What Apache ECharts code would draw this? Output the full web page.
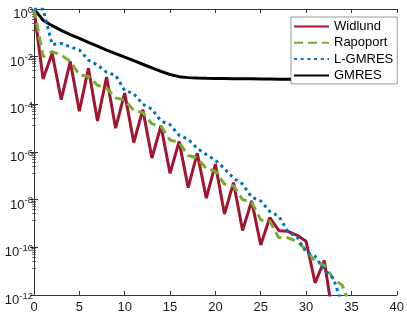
<!DOCTYPE html>
<html>
<head>
<meta charset="utf-8">
<style>
html,body{margin:0;padding:0;background:#fff;}
#c{width:407px;height:315px;}
</style>
<script src="https://cdn.jsdelivr.net/npm/echarts@6/dist/echarts.min.js"></script>
</head>
<body>
<div id="c"></div>
<script>
// Iteration index is the position in each array (0, 1, 2, ...)
const seriesNames = ['Widlund', 'Rapoport', 'L-GMRES', 'GMRES'];
const xTicks = [0, 5, 10, 15, 20, 25, 30, 35, 40];
const yTickExponents = [0, -2, -4, -6, -8, -10, -12];

const widlund = [1, 1.15e-3, 1.38e-2, 1.58e-4, 6.3e-3, 5.1e-5, 3.3e-3, 2.0e-5, 1.41e-3, 1.0e-5,
  2.95e-4, 2.5e-6, 6.0e-5, 5.6e-7, 1.26e-5, 1.26e-7, 2.8e-6, 3.2e-8, 8.9e-7, 1.15e-8,
  3.1e-7, 2.5e-9, 5.2e-8, 5.1e-10, 8.9e-9, 1.26e-10, 1.78e-9, 5.0e-10, 4.7e-10, 3.2e-10,
  1.78e-10, 3.2e-12, 2.8e-11, 1e-13];

const rapoport = [1, 1.0e-2, 1.62e-2, 1.17e-2, 6.3e-3, 1.74e-3, 1.48e-3, 6.3e-4, 4.8e-4, 1.86e-4,
  1.51e-4, 5.6e-5, 4.5e-5, 1.51e-5, 1.2e-5, 3.2e-6, 2.5e-6, 7.1e-7, 5.6e-7, 2.0e-7,
  1.58e-7, 4.5e-8, 3.8e-8, 1.0e-8, 7.9e-9, 1.41e-9, 1.26e-9, 2.5e-10, 2.5e-10, 1.78e-10,
  7.9e-11, 2.5e-11, 1.78e-11, 5.0e-12, 2.5e-12, 2.5e-13];

const lgmres = [1, 1, 3.2e-2, 3.6e-2, 2.6e-2, 1.9e-2, 7.2e-3, 4.5e-3, 2.2e-3, 1.66e-3,
  3.8e-4, 2.8e-4, 1.0e-4, 6.3e-5, 2.0e-5, 1.41e-5, 5.0e-6, 3.4e-6, 1.41e-6, 7.9e-7,
  4.5e-7, 2.0e-7, 7.9e-8, 4.5e-8, 1.26e-8, 8.9e-9, 3.2e-9, 2.0e-9, 4.5e-10, 2.7e-10,
  6.3e-11, 4.2e-11, 1.12e-11, 5.0e-12, 4.0e-13];

const gmres = [1, 0.34, 0.2, 0.126, 0.085, 0.059, 0.04, 0.0275, 0.019, 0.0135,
  9.5e-3, 6.8e-3, 4.8e-3, 3.4e-3, 2.4e-3, 1.78e-3, 1.45e-3, 1.32e-3, 1.26e-3, 1.23e-3,
  1.21e-3, 1.2e-3, 1.19e-3, 1.18e-3, 1.17e-3, 1.16e-3, 1.15e-3, 1.14e-3, 1.13e-3, 1.12e-3,
  1.1e-3, 1.08e-3, 1.06e-3, 1.04e-3, 1.02e-3, 1.0e-3, 9.8e-4, 9.6e-4, 9.4e-4, 9.2e-4, 9.0e-4];

const colors = ['#A2142F', '#77AC30', '#0072BD', '#000000'];
const FONT = 'Liberation Sans, Arial, Helvetica, sans-serif';
const AX = '#333333';

function pairs(arr) { return arr.map((v, i) => [i, v]); }

const chart = echarts.init(document.getElementById('c'), null, {renderer: 'canvas'});

const xBase = {
  type: 'value', min: 0, max: 40, interval: 5,
  axisLine: {show: true, onZero: false, lineStyle: {color: AX, width: 1}},
  axisTick: {show: true, inside: true, length: 4, lineStyle: {color: AX, width: 1}},
  splitLine: {show: false}
};
const yBase = {
  type: 'log', logBase: 10, min: 1e-12, max: 1, interval: 2,
  axisLine: {show: true, lineStyle: {color: AX, width: 1}},
  axisTick: {show: true, inside: true, length: 4, lineStyle: {color: AX, width: 1}},
  minorTick: {show: true, splitNumber: 8, length: 2, lineStyle: {color: AX, width: 0.7}},
  splitLine: {show: false}, minorSplitLine: {show: false}
};

chart.setOption({
  animation: false,
  backgroundColor: '#ffffff',
  textStyle: {fontFamily: FONT},
  grid: {left: 34, right: 8, top: 9, bottom: 20, containLabel: false},
  xAxis: [
    Object.assign({}, xBase, {
      position: 'bottom',
      axisLabel: {show: true, fontSize: 13, color: '#1a1a1a', margin: 6, fontFamily: FONT,
        formatter: v => (xTicks.indexOf(v) >= 0 ? String(v) : '')}
    }),
    Object.assign({}, xBase, {position: 'top', axisLabel: {show: false}})
  ],
  yAxis: [
    Object.assign({}, yBase, {
      position: 'left',
      axisLabel: {
        show: true, margin: 1, padding: [8, 0, 0, 0], fontFamily: FONT,
        formatter: function (v) {
          const e = Math.round(Math.log10(v));
          if (yTickExponents.indexOf(e) < 0) return '';
          return '{b|10}{s|' + (e < 0 ? '-' + (-e) : String(e)) + '}';
        },
        rich: {
          b: {fontSize: 13, lineHeight: 16, color: '#1a1a1a', fontFamily: FONT, verticalAlign: 'bottom'},
          s: {fontSize: 9.5, lineHeight: 8, color: '#1a1a1a', fontFamily: FONT, verticalAlign: 'top'}
        }
      }
    }),
    Object.assign({}, yBase, {position: 'right', axisLabel: {show: false}})
  ],
  legend: {
    orient: 'vertical', left: 291, top: 17,
    itemWidth: 35, itemHeight: 14, itemGap: 3.3,
    padding: [3, 4, 2, 2],
    backgroundColor: '#ffffff', borderColor: '#555555', borderWidth: 0.6,
    itemStyle: {opacity: 0},
    textStyle: {fontSize: 13, color: '#000', fontFamily: FONT},
    data: seriesNames
  },
  series: [
    {name: seriesNames[0], type: 'line', data: pairs(widlund), showSymbol: false, symbol: 'none',
      lineStyle: {color: colors[0], width: 3}, itemStyle: {color: colors[0]}, z: 4},
    {name: seriesNames[1], type: 'line', data: pairs(rapoport), showSymbol: false, symbol: 'none',
      lineStyle: {color: colors[1], width: 3, type: [9, 5]}, itemStyle: {color: colors[1]}, z: 5},
    {name: seriesNames[2], type: 'line', data: pairs(lgmres), showSymbol: false, symbol: 'none',
      lineStyle: {color: colors[2], width: 3, type: [3, 3.7]}, itemStyle: {color: colors[2]}, z: 6},
    {name: seriesNames[3], type: 'line', data: pairs(gmres), showSymbol: false, symbol: 'none',
      lineStyle: {color: colors[3], width: 3}, itemStyle: {color: colors[3]}, z: 3}
  ]
});
</script>
</body>
</html>
